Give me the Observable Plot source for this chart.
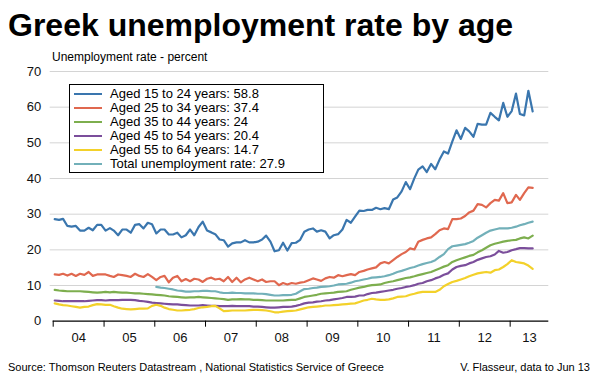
<!DOCTYPE html>
<html>
<head>
<meta charset="utf-8">
<script src="https://cdn.jsdelivr.net/npm/d3@7"></script>
<script src="https://cdn.jsdelivr.net/npm/@observablehq/plot@0.6"></script>
<style>
  html, body { margin: 0; padding: 0; background: #fff; }
  body { width: 600px; height: 376px; position: relative; overflow: hidden; font-family: "Liberation Sans", Arial, sans-serif; }
  #title { position: absolute; left: 8px; top: 9px; font-size: 32px; line-height: 32px; font-weight: bold; color: #000; white-space: nowrap; }
  #subtitle { position: absolute; left: 52px; top: 51px; font-size: 12px; line-height: 12px; color: #000; white-space: nowrap; }
  #chart { position: absolute; left: 0; top: 56px; }
  #legend { position: absolute; left: 69px; top: 84px; width: 255px; height: 89px; border: 1px solid #000; background: #fff; box-sizing: border-box; padding-top: 2px; }
  .row { height: 14px; line-height: 14px; font-size: 13px; white-space: nowrap; display: flex; align-items: center; }
  .sw { width: 28px; height: 2px; margin-left: 4px; margin-right: 8px; }
  #source { position: absolute; left: 8px; top: 361px; font-size: 11px; line-height: 12px; white-space: nowrap; }
  #author { position: absolute; right: 10px; top: 361px; font-size: 11px; line-height: 12px; white-space: nowrap; }
</style>
</head>
<body>
<div id="title">Greek unemployment rate by age</div>
<div id="subtitle">Unemployment rate - percent</div>
<div id="chart"></div>
<div id="legend"></div>
<div id="source">Source: Thomson Reuters Datastream , National Statistics Service of Greece</div>
<div id="author">V. Flasseur, data to Jun 13</div>
<script>
// Monthly series, January 2004 to June 2013
const firstMonth = [2004, 0];
const age15to24 = [28.6,28.4,28.7,26.7,26.5,26.7,25.4,25.4,26.2,25.5,
27.0,27.0,25.4,26.1,25.4,24.1,25.7,25.7,24.8,27.0,
27.2,26.0,27.6,27.2,24.6,25.7,25.7,24.3,24.3,24.8,
23.5,24.1,25.7,24.1,26.4,27.9,25.4,24.9,24.4,22.9,
22.7,20.9,21.8,22.1,22.1,22.7,22.1,22.1,22.3,22.9,
24.0,22.3,19.6,19.9,22.0,19.8,21.9,22.0,22.8,25.1,
25.7,26.0,25.1,25.5,25.1,23.2,24.1,24.4,25.7,28.4,
27.6,29.3,31.0,30.9,31.2,31.2,31.8,31.4,31.7,31.4,
34.1,34.7,36.4,39.0,37.0,40.1,42.5,43.4,41.8,44.1,
42.6,45.3,47.6,47.0,50.4,53.5,51.1,54.2,53.2,51.7,
55.3,55.1,55.1,58.4,57.3,56.3,61.2,57.3,58.9,63.8,
58.1,57.7,64.6,58.8];
const age25to34 = [13.1,13.0,13.3,12.8,13.3,12.7,13.3,13.0,13.8,12.7,
13.1,13.1,13.1,12.7,12.4,13.1,12.9,12.7,12.4,13.3,
12.7,12.4,13.2,12.4,11.5,12.4,12.7,10.9,12.2,12.7,
11.2,11.8,11.2,11.9,11.7,11.0,11.9,12.2,11.7,11.9,
11.2,12.4,11.0,12.2,10.9,11.7,12.2,11.7,11.2,11.7,
11.0,11.2,11.2,10.1,10.7,10.3,10.7,10.5,10.8,11.0,
11.5,12.0,11.7,11.3,12.0,12.4,12.2,12.9,12.6,12.9,
13.2,12.9,13.8,14.1,14.5,14.8,15.1,16.2,16.6,16.2,
17.1,18.0,18.8,19.4,20.4,20.1,22.3,22.8,23.2,23.5,
24.4,25.5,26.0,25.8,28.6,28.6,28.8,29.5,30.5,31.0,
32.8,32.6,31.9,33.1,34.0,33.8,35.9,33.1,33.3,35.4,
34.0,35.9,37.5,37.4];
const age35to44 = [8.8,8.6,8.5,8.4,8.4,8.4,8.4,8.3,8.2,8.1,
8.0,8.1,8.2,8.1,8.2,8.1,8.0,8.0,7.9,7.8,
7.8,7.7,7.6,7.5,7.4,7.3,7.2,7.0,6.9,6.8,
6.7,6.6,6.7,6.7,6.8,6.7,6.6,6.5,6.4,6.3,
6.2,6.0,6.1,6.1,6.2,6.1,6.1,6.0,6.0,5.9,
5.8,5.8,5.8,5.8,5.8,5.9,6.0,6.0,6.4,6.8,
7.0,7.2,7.4,7.7,7.8,7.9,8.0,8.2,8.3,8.4,
8.8,9.1,9.4,9.6,9.9,10.1,10.2,10.3,10.7,11.0,
11.2,11.5,11.8,12.1,12.3,12.6,12.9,13.2,13.5,13.8,
14.3,14.8,15.3,15.7,16.6,17.1,17.5,17.9,18.3,18.6,
19.3,19.9,20.6,21.3,21.7,22.0,22.3,22.5,22.7,22.8,
23.2,23.5,23.2,24.0];
const age45to54 = [5.8,5.7,5.6,5.6,5.6,5.6,5.6,5.6,5.7,5.8,
5.9,5.9,5.8,5.9,5.9,5.9,6.0,6.0,6.0,5.9,
5.7,5.6,5.4,5.2,5.1,5.0,4.9,4.8,4.7,4.7,
4.6,4.5,4.4,4.4,4.4,4.5,4.4,4.3,4.3,4.2,
4.2,4.2,4.3,4.2,4.2,4.2,4.2,4.1,4.1,4.0,
3.9,3.8,3.8,3.9,4.0,4.0,4.1,4.3,4.6,5.0,
5.2,5.3,5.5,5.6,5.8,5.9,6.1,6.3,6.5,6.8,
6.8,6.9,7.2,7.2,7.6,7.9,8.0,8.2,8.4,8.6,
8.8,9.1,9.3,9.6,9.8,10.1,10.5,10.7,11.2,11.5,
12.0,12.4,13.0,13.4,14.5,15.2,15.5,15.7,16.2,16.6,
17.2,17.6,18.0,18.2,18.7,19.7,19.2,19.4,19.9,20.2,
20.5,20.5,20.4,20.4];
const age55to64 = [5.0,4.7,4.5,4.4,4.2,4.0,3.8,4.0,4.1,4.5,
4.8,4.7,4.6,4.6,4.2,3.8,3.5,3.4,3.3,3.4,
3.5,3.5,3.6,4.3,4.6,4.3,3.8,3.4,3.2,3.0,
3.0,3.1,3.2,3.4,3.7,3.9,4.0,4.2,4.3,3.6,
2.8,2.9,3.0,3.0,3.0,3.0,3.1,3.2,3.2,3.1,
3.0,2.8,2.5,2.5,2.7,2.8,2.9,3.0,3.3,3.6,
3.9,4.0,4.1,4.2,4.4,4.4,4.5,4.6,4.7,4.8,
4.9,5.0,5.4,5.8,6.0,6.3,6.1,6.0,6.0,6.1,
6.4,6.8,6.9,7.0,7.4,7.7,8.0,8.2,8.2,8.2,
8.2,8.8,9.8,10.4,11.0,11.3,11.7,12.1,12.6,13.0,
13.4,13.6,13.8,13.6,14.3,14.5,15.2,16.0,17.1,16.6,
16.4,16.2,15.6,14.7];
// Total rate starts January 2006
const totalFirstMonth = [2006, 0];
const totalRate = [9.6,9.4,9.3,9.1,8.9,8.6,8.5,8.3,8.3,8.4,
8.4,8.5,8.5,8.4,8.4,8.1,7.9,7.9,8.0,7.9,
7.9,7.8,7.8,7.8,7.7,7.7,7.6,7.4,7.2,7.2,
7.3,7.3,7.4,7.7,8.4,9.0,9.1,9.3,9.4,9.6,
9.7,9.8,10.0,10.3,10.4,10.5,10.8,11.2,11.4,11.7,
11.9,12.2,12.3,12.4,12.6,12.9,13.3,13.8,14.1,14.5,
14.9,15.2,15.6,16.0,16.3,16.6,17.1,18.0,18.8,20.2,
21.0,21.2,21.4,21.6,22.0,22.5,23.4,24.1,24.8,25.4,
25.7,26.0,26.0,26.0,26.2,26.5,26.9,27.2,27.6,27.9];

const seriesNames = ["Aged 15 to 24 years", "Aged 25 to 34 years", "Aged 35 to 44 years", "Aged 45 to 54 years", "Aged 55 to 64 years", "Total unemployment rate"];
const seriesColors = ["#3a76ae", "#e0684f", "#7dae4e", "#7b4e9b", "#f3d12a", "#72b0b9"];
const yTicks = [0, 10, 20, 30, 40, 50, 60, 70];
const yearLabels = ["04", "05", "06", "07", "08", "09", "10", "11", "12", "13"];
const xDomainEnd = new Date(Date.UTC(2013, 9, 6));

const seriesValues = [age15to24, age25to34, age35to44, age45to54, age55to64, totalRate];
const seriesStarts = [firstMonth, firstMonth, firstMonth, firstMonth, firstMonth, totalFirstMonth];

const rows = [];
seriesValues.forEach((vals, s) => {
  const [y0, m0] = seriesStarts[s];
  vals.forEach((v, i) => rows.push({ series: seriesNames[s], date: new Date(Date.UTC(y0, m0 + i, 12)), value: v }));
});

const xStart = new Date(Date.UTC(2004, 0, 1));
const yearStarts = yearLabels.map((_, i) => new Date(Date.UTC(2004 + i, 0, 1)));
const labelDates = yearStarts.map((d, i) => {
  const next = i + 1 < yearStarts.length ? yearStarts[i + 1] : xDomainEnd;
  return new Date((+d + +next) / 2);
});
const labelMap = new Map(labelDates.map((d, i) => [+d, yearLabels[i]]));

const chart = Plot.plot({
  width: 600,
  height: 300,
  marginLeft: 52.7,
  marginRight: 51.7,
  marginTop: 15,
  marginBottom: 35.3,
  style: { fontFamily: "'Liberation Sans', Arial, sans-serif", fontSize: "13px", color: "#111", background: "transparent" },
  x: { type: "utc", domain: [xStart, xDomainEnd] },
  y: { domain: [0, 70] },
  color: { domain: seriesNames, range: seriesColors },
  marks: [
    Plot.ruleY(yTicks.filter(d => d > 0), { stroke: "#d4d4d4", strokeWidth: 1, insetLeft: -3 }),
    Plot.axisY(yTicks, { tickSize: 0, tickPadding: 12, fontSize: 13, label: null, anchor: "left" }),
    Plot.lineY(rows, { x: "date", y: "value", z: "series", stroke: "series", strokeWidth: 2.2, curve: "linear" }),
    Plot.ruleY([0], { stroke: "#000", strokeWidth: 1.2 }),
    Plot.axisX(yearStarts, { tickSize: 6, tickFormat: () => "", label: null, stroke: "#000" }),
    Plot.axisX(labelDates, { tickSize: 0, tickPadding: 12, tickFormat: d => labelMap.get(+d), fontSize: 13, label: null })
  ]
});
document.getElementById("chart").appendChild(chart);

const legend = document.getElementById("legend");
seriesNames.forEach((name, s) => {
  const vals = seriesValues[s];
  const row = document.createElement("div");
  row.className = "row";
  const sw = document.createElement("span");
  sw.className = "sw";
  sw.style.background = seriesColors[s];
  const label = document.createElement("span");
  label.textContent = name + ": " + vals[vals.length - 1];
  row.appendChild(sw);
  row.appendChild(label);
  legend.appendChild(row);
});
</script>
</body>
</html>
